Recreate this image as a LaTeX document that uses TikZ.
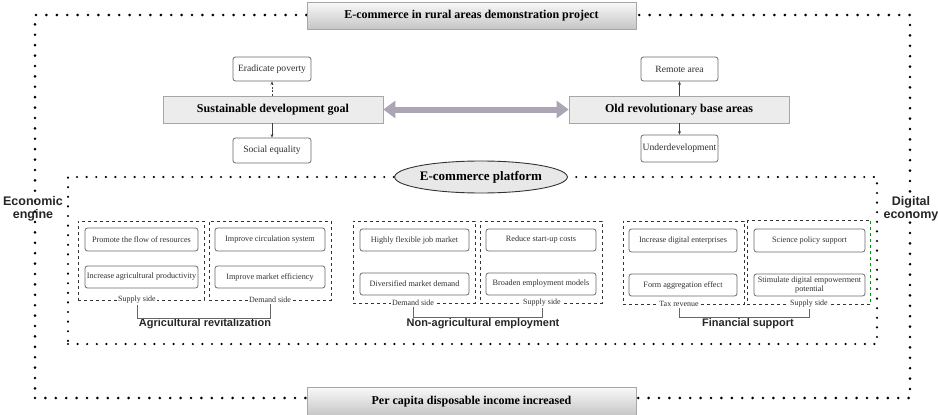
\documentclass[tikz,border=0pt]{standalone}
\usepackage{fontspec}
\setmainfont{Liberation Serif}
\setsansfont{Liberation Sans}
\usetikzlibrary{shapes.geometric,arrows.meta}
\definecolor{boxline}{HTML}{6A6A6A}
\definecolor{txt}{HTML}{303030}
\definecolor{arrowfill}{HTML}{ABA5B5}
\begin{document}
\begin{tikzpicture}[x=1pt,y=-1pt,
 headbox/.style={draw=gray!70, top color=gray!5, bottom color=gray!45, minimum width=329pt, minimum height=27pt, inner sep=0pt, font=\fontsize{12}{14}\selectfont\bfseries},
 mainbox/.style={draw=gray!70, line width=0.7pt, fill=gray!15, minimum width=220pt, minimum height=27pt, inner sep=0pt, font=\fontsize{12}{14}\selectfont\bfseries},
 topbox/.style={draw=boxline, line width=0.8pt, rounded corners=2.5pt, fill=white, minimum width=78pt, inner sep=0pt, text=txt, font=\fontsize{9.6}{11}\selectfont},
 itembox/.style={draw=boxline, line width=0.8pt, rounded corners=2.5pt, minimum width=110pt, minimum height=22pt, inner sep=0pt, align=center, text=txt, font=\fontsize{8.2}{9.6}\selectfont},
 grp/.style={minimum width=122pt, minimum height=83pt, inner sep=0pt},
 gdash/.style={draw=black!80, line width=1pt, dash pattern=on 3pt off 3pt},
 sidelab/.style={fill=white, inner sep=1pt, text=txt, font=\fontsize{8}{9}\selectfont},
 grptitle/.style={font=\fontsize{11}{13}\selectfont\sffamily\bfseries, text=black!85},
 sidetext/.style={font=\fontsize{12.5}{13}\selectfont\sffamily\bfseries, align=center, text=black!85},
 outerdots/.style={draw=black, line width=2.9pt, dash pattern=on 0pt off 10.4pt, line cap=round},
 innerdots/.style={draw=black, line width=2.4pt, dash pattern=on 0pt off 9.6pt, line cap=round},
 smallarrow/.style={-{Stealth[length=3.5pt,width=3pt]}, draw=black!75, line width=0.7pt},
 bracket/.style={draw=black!60, line width=0.9pt}
]
\useasboundingbox (0,0) rectangle (938,415);

% frames
\node[outerdots, minimum width=875pt, minimum height=383pt, inner sep=0pt] (outer) at (472.5,206.5) {};
\node[innerdots, minimum width=809pt, minimum height=167pt, inner sep=0pt] (inner) at (472.5,260.5) {};

% header and footer
\node[headbox] (title) at (471.5,15.5) {E-commerce in rural areas demonstration project};
\node[headbox, minimum height=28pt] (income) at (471.5,401.5) {Per capita disposable income increased};

% side labels
\node[sidetext] (engine) at (33,209) {Economic\\engine};
\node[sidetext] (digital) at (911,209) {Digital\\economy};

% upper part
\node[mainbox] (sdg) at (273,109.5) {Sustainable development goal};
\node[mainbox] (orba) at (679,109.5) {Old revolutionary base areas};
\node[topbox, minimum height=24pt] (pov) at (272,69) {Eradicate poverty};
\node[topbox, minimum height=25pt] (equ) at (272,150.5) {Social equality};
\node[topbox, minimum width=77pt, minimum height=24pt] (remote) at (679.5,69) {Remote area};
\node[topbox, minimum width=77pt, minimum height=27pt] (under) at (679.5,148.5) {Underdevelopment};

\draw[smallarrow, dash pattern=on 2pt off 1.5pt] (pov.south |- sdg.north) -- (pov.south);
\draw[smallarrow] (equ.north |- sdg.south) -- (equ.north);
\draw[smallarrow] (remote.south |- orba.north) -- (remote.south);
\draw[smallarrow] (under.north |- orba.south) -- (under.north);

\draw[draw=arrowfill, line width=6pt, {Triangle[length=12pt,width=17pt]}-{Triangle[length=12pt,width=17pt]}] (sdg.east) -- (orba.west);

% platform
\node[ellipse, draw=black!80, line width=0.9pt, fill=gray!18, minimum width=138pt, minimum height=32pt, inner sep=0pt, font=\fontsize{13}{15}\selectfont\bfseries] (plat) at (481,177) {E-commerce platform};

% group 1
\node[grp, gdash, minimum width=126pt, minimum height=79pt] (g1a) at (141,260.5) {};
\node[grp, gdash, minimum height=79pt] (g1b) at (270,260.5) {};
\node[itembox, minimum width=113pt, minimum height=23pt] (a1) at (141.5,239.5) {Promote the flow of resources};
\node[itembox, minimum width=113pt] (a2) at (141.5,277) {Increase agricultural productivity};
\node[itembox, minimum height=23pt] (a3) at (270,239.5) {Improve circulation system};
\node[itembox] (a4) at (270,277) {Improve market efficiency};
\node[sidelab] (s1a) at (137,300) {Supply side};
\node[sidelab] (s1b) at (270,300) {Demand side};
\node[grptitle] (t1) at (205,324) {Agricultural revitalization};
\draw[bracket] (s1a.south) -- ++(0,13.5) -| (s1b.south);

% group 2
\node[grp, gdash, minimum height=82pt] (g2a) at (414,262) {};
\node[grp, gdash, minimum height=82pt] (g2b) at (541,262) {};
\node[itembox, minimum width=109pt] (b1) at (414.5,240) {Highly flexible job market};
\node[itembox, minimum width=109pt] (b2) at (414.5,284) {Diversified market demand};
\node[itembox] (b3) at (541,240) {Reduce start-up costs};
\node[itembox] (b4) at (541,284) {Broaden employment models};
\node[sidelab] (s2a) at (413,303) {Demand side};
\node[sidelab] (s2b) at (542,303) {Supply side};
\node[grptitle] (t2) at (483,324) {Non-agricultural employment};
\draw[bracket] (s2a.south) -- ++(0,10.5) -| (s2b.south);

% group 3
\node[grp, gdash, minimum width=121pt] (g3a) at (683.5,262.5) {};
\node[grp] (g3b) at (809,262.5) {};
\draw[gdash] (g3b.south east) -- (g3b.south west) -- (g3b.north west) -- (g3b.north east);
\draw[draw=green!60!black, line width=0.8pt, dash pattern=on 3pt off 3pt] (g3b.north east) -- (g3b.south east);
\node[itembox, minimum width=108pt, minimum height=23pt] (c1) at (683,240.5) {Increase digital enterprises};
\node[itembox, minimum width=108pt] (c2) at (683,285) {Form aggregation effect};
\node[itembox, minimum width=111pt, minimum height=23pt] (c3) at (809.5,240.5) {Science policy support};
\node[itembox, minimum width=111pt] (c4) at (809.5,285) {Stimulate digital empowerment\\potential};
\node[sidelab] (s3a) at (679,304) {Tax revenue};
\node[sidelab] (s3b) at (809,304) {Supply side};
\node[grptitle] (t3) at (748,324) {Financial support};
\draw[bracket] (s3a.south) -- ++(0,9.5) -| (s3b.south);
\end{tikzpicture}
\end{document}
